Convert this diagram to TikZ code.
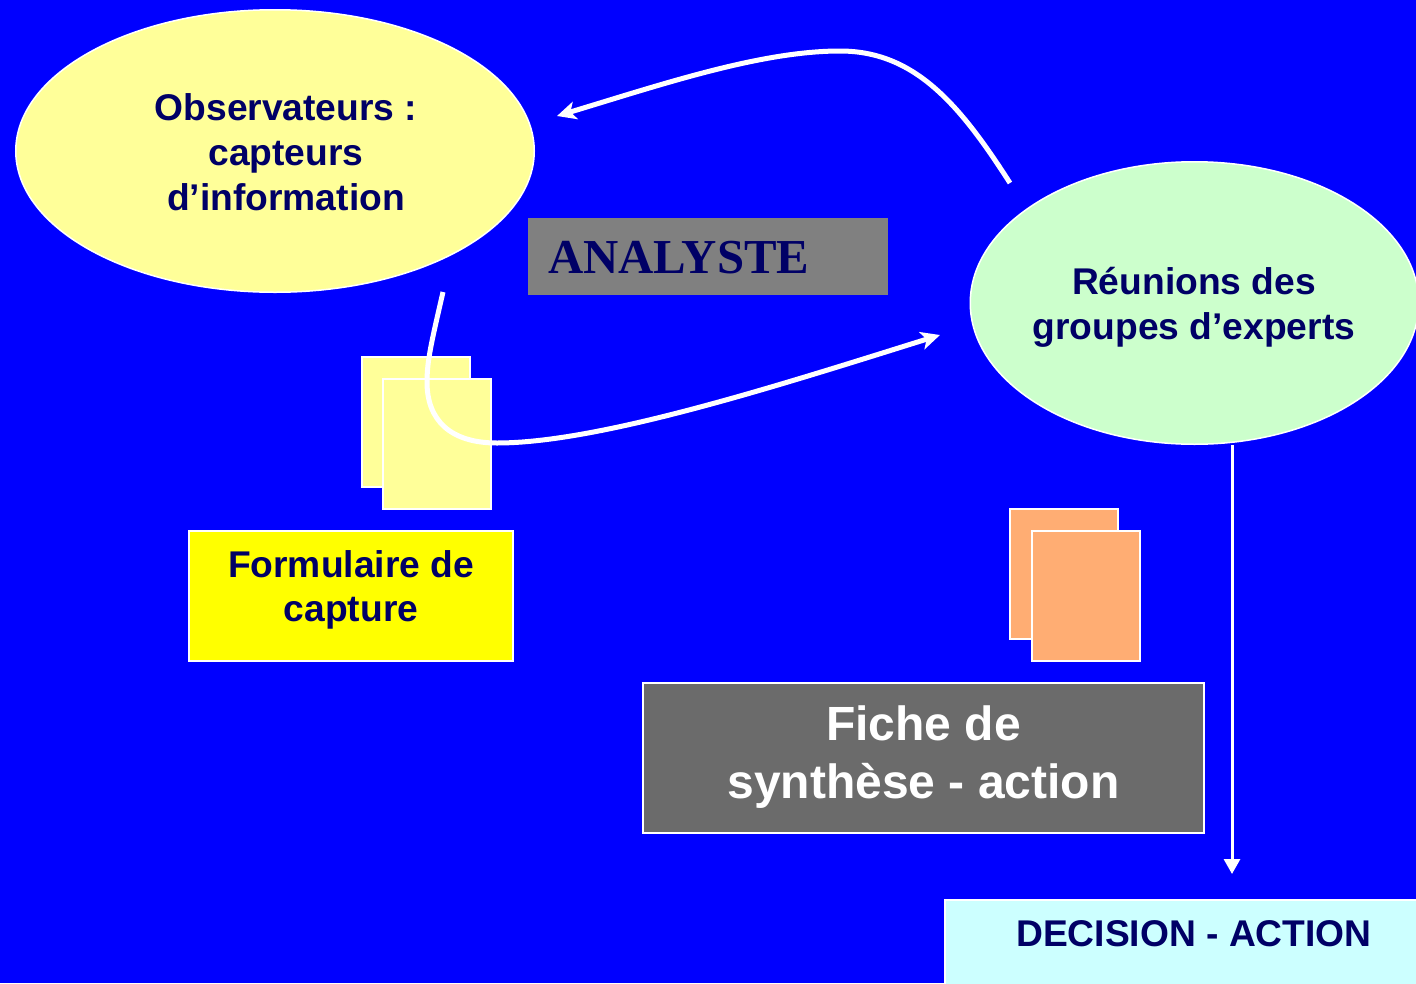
\documentclass[tikz,border=0pt]{standalone}
\usepackage{fontspec}
\setmainfont{Liberation Sans}
\newfontfamily\serifbold{Liberation Serif}
\usepackage{xcolor}
\usetikzlibrary{arrows.meta,shapes.geometric}
\definecolor{backblue}{HTML}{0000FF}
\definecolor{navy}{HTML}{000066}
\definecolor{paleyellow}{HTML}{FFFF99}
\definecolor{brightyellow}{HTML}{FFFF00}
\definecolor{palegreen}{HTML}{CCFFCC}
\definecolor{paleorange}{HTML}{FFAD73}
\definecolor{palecyan}{HTML}{CCFFFF}
\definecolor{midgray}{HTML}{808080}
\definecolor{darkgray}{HTML}{6B6B6B}
\tikzset{
  oval/.style={ellipse, draw=white, line width=1.5pt, inner sep=0pt},
  box/.style={rectangle, draw=white, line width=2pt, inner sep=0pt},
  sheet/.style={box, minimum width=108pt, minimum height=130pt},
  lab/.style={text=navy, align=center, font=\fontsize{37.2}{45}\selectfont\bfseries},
  flow/.style={draw=white, line width=5pt, line cap=butt, -{Stealth[length=19pt,width=18pt,inset=5pt]}},
  drop/.style={draw=white, line width=3pt, -{Triangle[length=15pt,width=16pt]}},
}
\begin{document}
\begin{tikzpicture}[x=1pt,y=-1pt]
  \useasboundingbox (0,0) rectangle (1416,983);
  \fill[backblue] (0,0) rectangle (1416,983);
  % ovals
  \node[oval,fill=paleyellow,minimum width=518.5pt,minimum height=282.5pt] (obs) at (275,151) {};
  \node[oval,fill=palegreen,minimum width=448.5pt,minimum height=282.5pt] (reu) at (1194.5,303) {};
  \node[lab] (obstxt) at (286,152) {Observateurs :\\capteurs\\d’information};
  \node[lab] (reutxt) at (1194,307) {Réunions des\\groupes d’experts};
  % boxes
  \node[rectangle,fill=midgray,minimum width=360pt,minimum height=77pt] (ana) at (708,256.5) {};
  \node[anchor=west,text=navy,font=\fontsize{48.8}{50}\serifbold\bfseries] (anatxt) at (544.5,258) {ANALYSTE};
  \node[box,fill=brightyellow,minimum width=324pt,minimum height=130pt] (form) at (351,595.5) {};
  \node[text=navy,align=center,font=\fontsize{37.2}{44}\selectfont\bfseries] (formtxt) at (351,589.5) {Formulaire de\\capture};
  \node[box,fill=darkgray,minimum width=561pt,minimum height=150.5pt] (fiche) at (923.5,758) {};
  \node[text=white,align=center,font=\fontsize{48}{58}\selectfont\bfseries] (fichetxt) at (923.5,757) {Fiche de\\synthèse - action};
  \node[box,fill=palecyan,minimum width=480pt,minimum height=100pt,anchor=north west] (dec) at (944,899) {};
  \node[lab] (dectxt) at (1194,933.5) {DECISION - ACTION};
  % sheets
  \node[sheet,fill=paleyellow] (sa) at (416,422) {};
  \node[sheet,fill=paleyellow] (sb) at (437,443.5) {};
  \node[sheet,fill=paleorange] (sc) at (1064,573.5) {};
  \node[sheet,fill=paleorange] (sd) at (1086,595.5) {};
  % free ends of the connectors
  \coordinate (p1) at (1010,183);
  \coordinate (p2) at (557,116);
  \coordinate (p3) at (443,292);
  \coordinate (p4) at (940,335);
  \coordinate (p5) at (1232,445);
  \coordinate (p6) at (1232,874);
  \draw[flow] (p1) .. controls (960,105) and (915,51) .. (840,51)
    .. controls (760,51) and (660,85) .. (p2);
  \draw[flow] (p3) .. controls (432,340) and (427,360) .. (427,382)
    .. controls (427,420) and (450,443) .. (497,443)
    .. controls (600,443) and (780,385) .. (p4);
  \draw[drop] (p5) -- (p6);
\end{tikzpicture}
\end{document}
